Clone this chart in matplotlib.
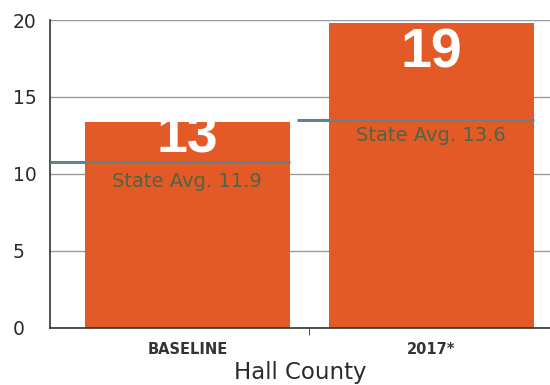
import matplotlib
matplotlib.use('Agg')
import matplotlib.pyplot as plt

# ── Data ──────────────────────────────────────────────────────────────────
categories = ['BASELINE', '2017*']
values = [13.4, 19.8]          # bar heights as drawn
value_labels = ['13', '19']
state_avg_drawn = [10.8, 13.5]  # where the state-average lines sit
state_avg_labels = ['11.9', '13.6']

ORANGE = '#E45A26'
AVG_GRAY = '#6A8088'
AVG_TEXT = '#506446'
TEXT_DARK = '#2B2B2B'

fig = plt.figure(figsize=(5.5, 3.85), dpi=100)
ax = fig.add_axes([0.091, 0.149, 0.909, 0.799])

x = list(range(len(categories)))
w = 0.84
ax.bar(x, values, width=w, color=ORANGE, zorder=2)

ax.set_xlim(-0.563, 1.487)
ax.set_ylim(0, 20)

# grid
ax.set_yticks([0, 5, 10, 15, 20])
ax.yaxis.grid(True, color='#9A9A9A', linewidth=1.0, zorder=0)
ax.set_axisbelow(True)

# state average lines + labels
starts = [ax.get_xlim()[0], 0.45]
offsets = [-18, -15]
for i, (yv, lbl) in enumerate(zip(state_avg_drawn, state_avg_labels)):
    ax.hlines(yv, starts[i], x[i] + w / 2, color=AVG_GRAY, linewidth=2.2, zorder=3)
    ax.annotate(f'State Avg. {lbl}', (x[i], yv), xytext=(0, offsets[i]),
                textcoords='offset points', ha='center', va='baseline',
                fontsize=14, color=AVG_TEXT, zorder=4)

# big value labels (white; the top of "13" disappears above its bar)
val_offsets = [-22, -32]
for i, lbl in enumerate(value_labels):
    ax.annotate(lbl, (x[i], values[i]), xytext=(0, val_offsets[i]),
                textcoords='offset points', ha='center', va='baseline',
                fontsize=40, fontweight='bold', family='Liberation Sans',
                color='white', zorder=4)

# axes styling
for s in ['top', 'right']:
    ax.spines[s].set_visible(False)
for s in ['left', 'bottom']:
    ax.spines[s].set_color('#333333')
    ax.spines[s].set_linewidth(1.2)

ax.set_xticks(x)
ax.set_xticklabels(categories, fontsize=10.5, fontweight='bold', color='#333333')
ax.tick_params(axis='x', length=0, pad=10)
ax.set_xticks([0.5], minor=True)
ax.tick_params(axis='x', which='minor', length=5, color='#333333')
ax.tick_params(axis='y', length=0, labelsize=13.5, labelcolor=TEXT_DARK, pad=27)
for t in ax.get_yticklabels():
    t.set_horizontalalignment('left')

ax.set_xlabel('Hall County', fontsize=16.5, color=TEXT_DARK, labelpad=3)

fig.savefig('out.png', dpi=100, facecolor='white')
plt.close()
